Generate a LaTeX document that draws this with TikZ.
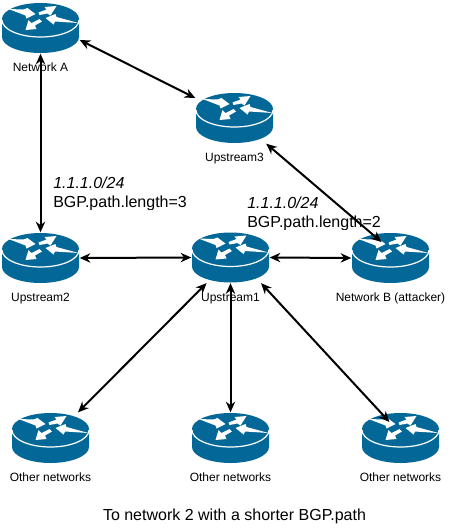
\documentclass[tikz,border=0pt]{standalone}
\usepackage{xcolor}
\usepackage{fontspec}
\setmainfont{Liberation Sans}
\usetikzlibrary{arrows.meta,positioning,calc}
\definecolor{routerblue}{HTML}{036897}

\begin{document}
\begin{tikzpicture}[
  x=0.75pt, y=-0.75pt,
  routerbox/.style={rectangle, minimum width=57.75pt, minimum height=37.5pt, inner sep=0pt, outer sep=0.5pt},
  lbl/.style={font=\fontsize{9}{11}\selectfont, inner sep=0pt, below=7pt of #1},
  big/.style={font=\fontsize{12}{14}\selectfont, inner sep=0pt, anchor=west},
  arr/.style={{Stealth[length=8pt,width=7pt]}-{Stealth[length=8pt,width=7pt]}, line width=1.5pt},
  router/.pic={
    \fill[routerblue] (-38.5,-9) -- (-38.5,9) arc[x radius=38.5, y radius=16, start angle=180, end angle=0]
      -- (38.5,-9) arc[x radius=38.5, y radius=16, start angle=0, end angle=-180] -- cycle;
    \draw[white, line width=0.9pt] (-38.5,-8) arc[x radius=38.5, y radius=17, start angle=180, end angle=0];
    \fill[white] (-32,-19) -- (-17,-18.5) -- (-13,-20) -- (-5,-14) -- (-14,-9.5) -- (-15,-12.5) -- cycle;
    \fill[white] (-1,-13) -- (7,-14.5) -- (10,-12.5) -- (16,-22) -- (4,-21) -- (6,-18.5) -- (-2,-15.5) -- cycle;
    \fill[white] (38,-5) -- (16,-11) -- (15,-14) -- (5,-10) -- (13,-3.5) -- (14.5,-6.5) -- cycle;
    \fill[white] (-15,2) -- (-12,-8) -- (-9,-5) -- (-1,-9) -- (1.5,-6.5) -- (-5.5,-2.5) -- (-4,1) -- cycle;
  }
]
\useasboundingbox (0,0) rectangle (464,532);

% Routers
\foreach \nm/\px/\py/\txt in {netA/40.5/28/Network A, upThree/234.5/118/Upstream3,
    upTwo/40.5/258/Upstream2, upOne/230.5/257.5/Upstream1, netB/390.5/258/Network B (attacker),
    otherA/50.5/438/Other networks, otherB/230.5/438/Other networks, otherC/400.5/438/Other networks}{
  \node[routerbox] (\nm) at (\px,\py) {};
  \pic at (\nm) {router};
  \node[lbl=\nm] (\nm-lbl) {\txt};
}

% Prefix labels, cut off just under the baseline
\begin{scope}
  \clip (40,170) rectangle (200,209.5);
  \node[big] (lenA) at (53,183) {\itshape 1.1.1.0/24};
  \node[big, below=5pt of lenA.south west, anchor=north west] (pathA) {BGP.path.length=3};
\end{scope}
\begin{scope}
  \clip (240,190) rectangle (400,229.5);
  \node[big] (lenB) at (247,203) {\itshape 1.1.1.0/24};
  \node[big, below=5pt of lenB.south west, anchor=north west] (pathB) {BGP.path.length=2};
\end{scope}

\node[big, anchor=center] (note) at (234.5,516) {To network 2 with a shorter BGP.path};

\coordinate (hitB) at ($(netB)+(-9,-16)$);
\coordinate (hitC) at ($(otherC)+(-11,-16)$);

% Links
\draw[arr] (netA.-17) -- (upThree.153);
\draw[arr] (netA.south) -- (upTwo.north);
\draw[arr] (upThree.-39) -- (hitB);
\draw[arr] (upTwo.east) -- (upOne.west);
\draw[arr] (upOne.east) -- (netB.west);
\draw[arr] (upOne.-133) -- (otherA.43);
\draw[arr] (upOne.south) -- (otherB.north);
\draw[arr] (upOne.-40) -- (hitC);
\end{tikzpicture}
\end{document}
